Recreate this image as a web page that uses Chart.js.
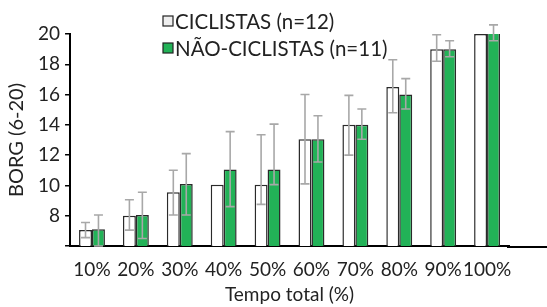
<!DOCTYPE html>
<html>
<head>
<meta charset="utf-8">
<script src="https://cdn.jsdelivr.net/npm/chart.js@4/dist/chart.umd.min.js"></script>
<style>
html,body{margin:0;padding:0;background:#fff;}
#wrap{position:relative;width:547px;height:307px;}
</style>
</head>
<body>
<div id="wrap"><canvas id="c" width="547" height="307"></canvas></div>
<script>
const categories = ['10%','20%','30%','40%','50%','60%','70%','80%','90%','100%'];
const seriesNames = ['CICLISTAS (n=12)','NÃO-CICLISTAS (n=11)'];
const ciclistas = [7.05, 8.0, 9.55, 10.05, 10.05, 13.05, 14.0, 16.5, 19.0, 20.0];
const ciclistasErrUp = [0.5, 1.05, 1.45, 0, 3.3, 2.95, 1.95, 1.8, 0.95, 0];
const ciclistasErrDown = [0.5, 0.95, 1.5, 0, 1.3, 2.95, 2.0, 1.7, 0.8, 0];
const naoCiclistas = [7.1, 8.05, 10.1, 11.05, 11.05, 13.05, 14.0, 16.0, 19.0, 20.1];
const naoErrUp = [0.95, 1.5, 2.0, 2.5, 3.0, 1.55, 1.05, 1.05, 0.55, 0.5];
const naoErrDown = [1.1, 1.55, 2.05, 2.45, 1.0, 1.5, 0.95, 0.95, 0.5, 0.55];
const yTicks = [6, 8, 10, 12, 14, 16, 18, 20];

const FONT = 'Lato, "Open Sans", sans-serif';
const FS = 19;
const TXT = '#222';

const errorBars = {
  id: 'errorBars',
  afterDatasetsDraw(chart) {
    const ctx = chart.ctx;
    const y = chart.scales.y;
    chart.data.datasets.forEach((ds, di) => {
      const meta = chart.getDatasetMeta(di);
      meta.data.forEach((el, i) => {
        const up = ds.errUp[i], dn = ds.errDown[i];
        if (!up && !dn) return;
        const v = ds.data[i];
        const yt = y.getPixelForValue(v + up);
        const yb = y.getPixelForValue(v - dn);
        const x = el.x;
        ctx.save();
        ctx.strokeStyle = '#a8a8a8';
        ctx.lineWidth = 1.6;
        ctx.beginPath();
        ctx.moveTo(x, yt); ctx.lineTo(x, yb);
        ctx.moveTo(x - 4.5, yt); ctx.lineTo(x + 4.5, yt);
        ctx.moveTo(x - 4.5, yb); ctx.lineTo(x + 4.5, yb);
        ctx.stroke();
        ctx.restore();
      });
    });
  }
};

const extras = {
  id: 'extras',
  afterDraw(chart) {
    const ctx = chart.ctx;
    const a = chart.chartArea;
    ctx.save();
    ctx.strokeStyle = '#000';
    ctx.lineWidth = 2;
    ctx.beginPath();
    ctx.moveTo(a.right - 2, a.bottom + 1);
    ctx.lineTo(chart.width, a.bottom + 1);
    ctx.stroke();
    const fills = ['#eeeeee', '#22b257'];
    ctx.font = '20.5px ' + FONT;
    ctx.textBaseline = 'middle';
    ctx.textAlign = 'left';
    const rows = [21, 48];
    chart.data.datasets.forEach((ds, i) => {
      const cy = rows[i];
      ctx.fillStyle = fills[i];
      ctx.fillRect(163, cy - 5, 10, 10);
      ctx.strokeStyle = '#222';
      ctx.lineWidth = 1.2;
      ctx.strokeRect(163, cy - 5, 10, 10);
      ctx.fillStyle = TXT;
      ctx.fillText(ds.label, 175, cy + 1);
    });
    ctx.restore();
  }
};

new Chart(document.getElementById('c'), {
  type: 'bar',
  data: {
    labels: categories,
    datasets: [
      { label: seriesNames[0], data: ciclistas, errUp: ciclistasErrUp, errDown: ciclistasErrDown,
        backgroundColor: '#ffffff', borderColor: '#2a2a2a', borderWidth: 1.5, borderSkipped: 'bottom' },
      { label: seriesNames[1], data: naoCiclistas, errUp: naoErrUp, errDown: naoErrDown,
        backgroundColor: '#22b257', borderColor: '#2a2a2a', borderWidth: 1.5, borderSkipped: 'bottom' }
    ]
  },
  options: {
    responsive: false,
    animation: false,
    devicePixelRatio: 1,
    categoryPercentage: 0.59,
    barPercentage: 1.0,
    layout: { padding: { top: 34, right: 38, left: 5, bottom: 1 } },
    plugins: { legend: { display: false }, tooltip: { enabled: false } },
    scales: {
      x: {
        afterFit(scale) { scale.height = 60; },
        grid: { display: false },
        border: { display: true, color: '#000', width: 2 },
        ticks: { color: TXT, font: { family: FONT, size: FS }, padding: 4, maxRotation: 0, autoSkip: false },
        title: { display: true, text: 'Tempo total (%)', color: TXT, font: { family: FONT, size: FS }, padding: { top: 4, bottom: 0 } }
      },
      y: {
        min: 6, max: 20,
        afterBuildTicks(scale) { scale.ticks = yTicks.map(v => ({ value: v })); },
        grid: { drawOnChartArea: false, drawTicks: true, tickLength: 5, color: '#000', lineWidth: 1.5 },
        border: { display: true, color: '#000', width: 2 },
        ticks: { color: TXT, font: { family: FONT, size: FS }, padding: 5,
          callback: (v) => v === 6 ? '' : v },
        title: { display: true, text: 'BORG (6-20)', color: TXT, font: { family: FONT, size: 20 }, padding: { top: 0, bottom: 4 } }
      }
    }
  },
  plugins: [errorBars, extras]
});
</script>
</body>
</html>
